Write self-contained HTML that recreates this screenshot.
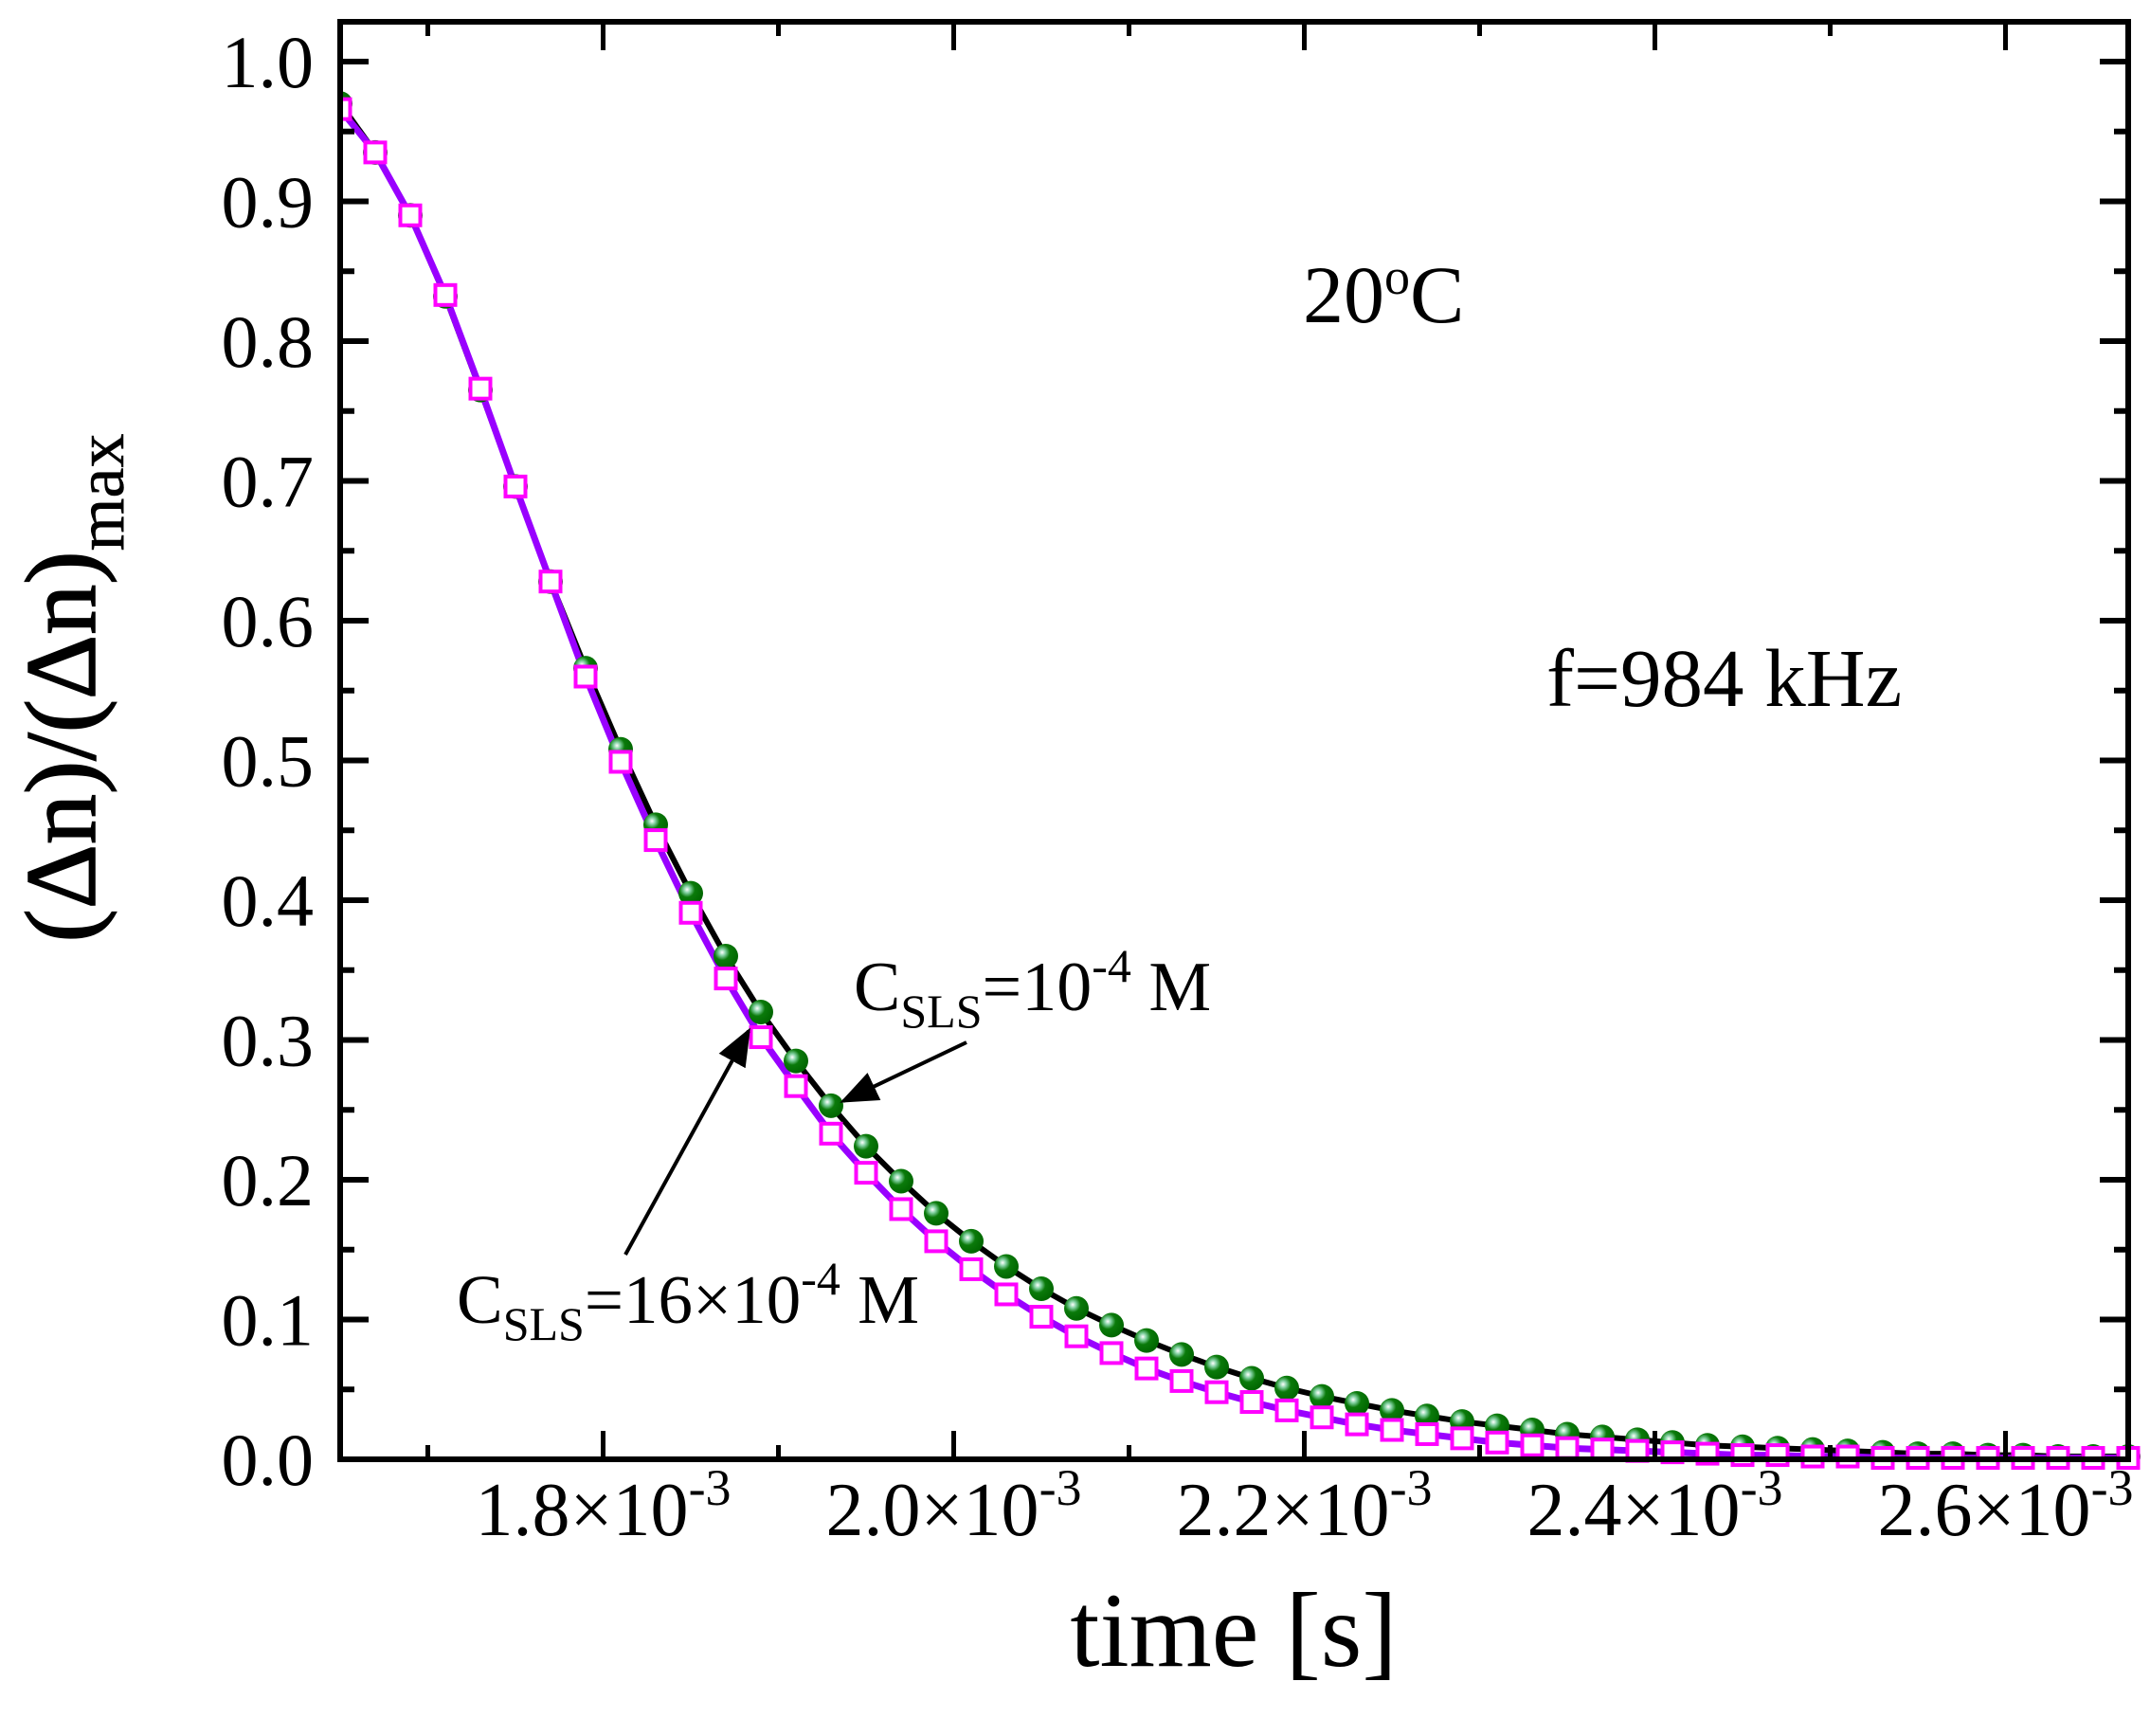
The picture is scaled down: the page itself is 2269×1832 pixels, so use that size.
<!DOCTYPE html>
<html><head><meta charset="utf-8">
<style>
html,body{margin:0;padding:0;background:#fff;}
svg{display:block;font-family:"Liberation Serif",serif;}
</style></head>
<body>
<svg id="chart" width="2269" height="1832" viewBox="0 0 2269 1832" xmlns="http://www.w3.org/2000/svg">
<defs>
<radialGradient id="ball" cx="0.35" cy="0.35" r="0.7">
<stop offset="0" stop-color="#ffffff"/>
<stop offset="0.2" stop-color="#7fcf9f"/>
<stop offset="0.45" stop-color="#0a7a0a"/>
<stop offset="1" stop-color="#006400"/>
</radialGradient>
<marker id="arrowhead" markerWidth="10" markerHeight="8" refX="9" refY="4" orient="auto" markerUnits="strokeWidth">
<path d="M0,0 L10,4 L0,8 Z" fill="#000"/>
</marker>
</defs>
<g id="marks"></g>
<g id="axes"></g>
<text x="1375" y="340" font-size="86">20<tspan baseline-shift="super" font-size="54">o</tspan>C</text>
<text x="1632" y="745" font-size="87">f=984 kHz</text>
<text x="901" y="1066" font-size="74">C<tspan dy="18" font-size="50">SLS</tspan><tspan dy="-18">=10</tspan><tspan dy="-30" font-size="50">-4</tspan><tspan dy="30"> M</tspan></text>
<text x="482" y="1396" font-size="73">C<tspan dy="18" font-size="50">SLS</tspan><tspan dy="-18">=16×10</tspan><tspan dy="-30" font-size="50">-4</tspan><tspan dy="30"> M</tspan></text>
<line x1="1020" y1="1100" x2="890" y2="1162" stroke="#000" stroke-width="4" marker-end="url(#arrowhead)"/>
<line x1="660" y1="1324" x2="790" y2="1088" stroke="#000" stroke-width="4" marker-end="url(#arrowhead)"/>
<text x="1302" y="1758" font-size="112" text-anchor="middle">time [s]</text>
<text transform="translate(100,726) rotate(-90)" font-size="106" stroke="#000" stroke-width="1.5" text-anchor="middle">(Δn)/(Δn)<tspan dy="30" font-size="72" stroke-width="0.5">max</tspan></text>
</svg>
<script>
const times = [];
for (let i = 0; i < 52; i++) times.push(1.65e-3 + i * 0.02e-3);
const seriesLow = [0.97,0.935,0.89,0.832,0.765,0.696,0.628,0.566,0.508,0.454,0.405,0.360,0.320,0.285,0.253,0.224,0.199,0.176,0.156,0.138,0.122,0.108,0.096,0.085,0.075,0.066,0.058,0.051,0.045,0.040,0.035,0.031,0.027,0.024,0.021,0.018,0.016,0.014,0.012,0.010,0.009,0.008,0.007,0.006,0.005,0.004,0.004,0.003,0.003,0.002,0.002,0.002];
const seriesHigh = [0.966,0.935,0.89,0.833,0.766,0.696,0.628,0.560,0.499,0.443,0.391,0.344,0.302,0.267,0.233,0.205,0.179,0.156,0.136,0.118,0.102,0.088,0.076,0.065,0.056,0.048,0.041,0.035,0.030,0.025,0.021,0.018,0.015,0.012,0.010,0.008,0.007,0.006,0.005,0.004,0.003,0.003,0.002,0.002,0.001,0.001,0.001,0.001,0.001,0.001,0.001,0.001];
const xTickValues = [1.8e-3,2.0e-3,2.2e-3,2.4e-3,2.6e-3];
const xTickLabels = ["1.8","2.0","2.2","2.4","2.6"];
const yTickValues = [0,0.1,0.2,0.3,0.4,0.5,0.6,0.7,0.8,0.9,1.0];
const yTickLabels = ["0.0","0.1","0.2","0.3","0.4","0.5","0.6","0.7","0.8","0.9","1.0"];

const L=359,R=2246,T=23,B=1540;
const xMin=1.65e-3,xMax=2.67e-3,yMin=0,yMax=1.0;
const yTop=65;
function xs(v){return L+(v-xMin)/(xMax-xMin)*(R-L);}
function ys(v){return B-(v-yMin)/(yMax-yMin)*(B-yTop);}
const NS="http://www.w3.org/2000/svg";
function mk(tag,attrs,parent){const e=document.createElementNS(NS,tag);for(const k in attrs)e.setAttribute(k,attrs[k]);parent.appendChild(e);return e;}
const marks=document.getElementById('marks');
const axes=document.getElementById('axes');

const lineLow=mk('polyline',{points:times.map((t,i)=>xs(t)+','+ys(seriesLow[i])).join(' '),fill:'none',stroke:'#000','stroke-width':6},marks);


const lineHigh=mk('polyline',{points:times.map((t,i)=>xs(t)+','+ys(seriesHigh[i])).join(' '),fill:'none',stroke:'#9900ff','stroke-width':7},marks);


times.forEach((t,i)=>{
  const c=mk('circle',{cx:xs(t),cy:ys(seriesLow[i]),r:13,fill:'url(#ball)'},marks);
  
  
});
times.forEach((t,i)=>{
  const s=mk('rect',{x:xs(t)-10.5,y:ys(seriesHigh[i])-10.5,width:21,height:21,fill:'#fff',stroke:'#ff00ff','stroke-width':4},marks);
  
  
});
mk('rect',{x:0,y:0,width:L,height:1832,fill:'#fff'},marks);
const frame=mk('rect',{x:L,y:T,width:R-L,height:B-T,fill:'none',stroke:'#000','stroke-width':6},axes);


for(let v=0;v<=1.0001;v+=0.05){
  const major=Math.abs(v*10-Math.round(v*10))<1e-6;
  const len=major?30:15;const y=ys(v);
  mk('line',{x1:L,y1:y,x2:L+len,y2:y,stroke:'#000','stroke-width':6},axes);
  mk('line',{x1:R,y1:y,x2:R-len,y2:y,stroke:'#000','stroke-width':6},axes);
}
yTickValues.forEach((v,i)=>{
  const t=mk('text',{x:L-28,y:ys(v)+27,'font-size':78,'text-anchor':'end'},axes);
  t.textContent=yTickLabels[i];
  
  
});
for(let k=17;k<=26;k++){
  const v=k*1e-4;if(v<xMin||v>xMax)continue;
  const major=k%2===0;const len=major?30:15;const x=xs(v);
  mk('line',{x1:x,y1:B,x2:x,y2:B-len,stroke:'#000','stroke-width':5},axes);
  mk('line',{x1:x,y1:T,x2:x,y2:T+len,stroke:'#000','stroke-width':5},axes);
}
xTickValues.forEach((v,i)=>{
  const t=mk('text',{x:xs(v),y:1620,'font-size':80,'text-anchor':'middle'},axes);
  
  
  t.appendChild(document.createTextNode(xTickLabels[i]+'×10'));
  const sup=mk('tspan',{dy:-32,'font-size':54},t);sup.textContent='-3';
});
</script>
</body></html>
